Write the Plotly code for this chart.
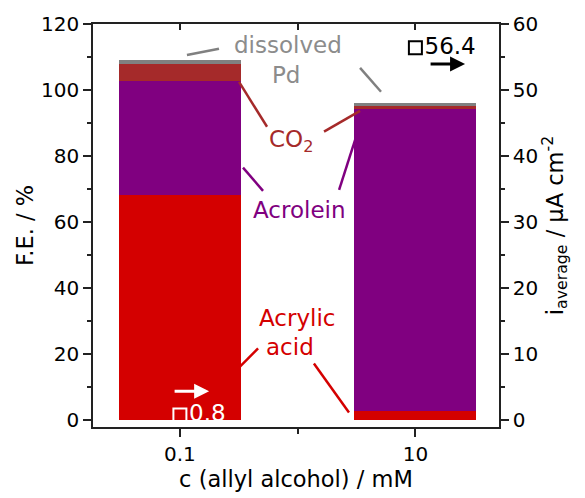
import plotly.graph_objects as go

# ---- data ----
categories = ["0.1", "10"]
acrylic_acid = [68.2, 2.7]
acrolein = [34.4, 91.8]
co2 = [5.4, 0.6]
dissolved_pd = [1.2, 1.0]
i_average = [0.8, 56.4]
i_labels = ["0.8", "56.4"]

xpos = list(range(len(categories)))
FONT = "DejaVu Sans, Liberation Sans, Arial, sans-serif"
FS = 20      # tick labels
FT = 22.5    # axis titles
FA = 23      # annotations
BW = 0.518

fig = go.Figure()
series = [
    ("Acrylic acid", acrylic_acid, "#d40000"),
    ("Acrolein", acrolein, "#800080"),
    ("CO2", co2, "#a52a2a"),
    ("dissolved Pd", dissolved_pd, "#808080"),
]
for name, vals, col in series:
    fig.add_trace(go.Bar(x=xpos, y=vals, name=name, width=BW,
                         marker=dict(color=col, line=dict(width=0)),
                         showlegend=False))

fig.add_trace(go.Scatter(
    x=xpos, y=i_average, yaxis="y2", mode="markers+text",
    marker=dict(symbol="square-open", size=13, color=["white", "black"],
                line=dict(width=2)),
    text=i_labels, textposition="middle right",
    textfont=dict(family=FONT, size=FA, color=["white", "black"]),
    showlegend=False, cliponaxis=False))

# invisible trace for the top axis
fig.add_trace(go.Scatter(x=xpos, y=[None, None], xaxis="x2", mode="markers",
                         showlegend=False, hoverinfo="skip"))

xr = [-0.369, 1.355]
tfont = dict(family=FONT, size=FT, color="black")
kfont = dict(family=FONT, size=FS, color="black")
fig.update_layout(
    width=585, height=498,
    margin=dict(l=93, r=86, t=24, b=71),
    plot_bgcolor="white", paper_bgcolor="white",
    barmode="stack", bargap=0,
    font=dict(family=FONT, size=FS, color="black"),
    xaxis=dict(range=xr, tickvals=xpos, ticktext=categories,
               ticks="outside", ticklen=8, tickwidth=1.5, tickcolor="#222",
               minor=dict(tickvals=[0.5], ticks="outside", ticklen=5,
                          tickwidth=1.5, tickcolor="#222"),
               showline=True, linecolor="#222", linewidth=1.5,
               showgrid=False, zeroline=False,
               title=dict(text="c (allyl alcohol) / mM", standoff=3,
                          font=tfont),
               tickfont=kfont),
    xaxis2=dict(range=xr, overlaying="x", side="top", anchor="y",
                tickvals=[0, 0.5, 1], ticks="inside", ticklen=6,
                tickwidth=1.5, tickcolor="#222", showticklabels=False,
                showline=True, linecolor="#222", linewidth=1.5,
                showgrid=False, zeroline=False),
    yaxis=dict(range=[-2, 120], tick0=0, dtick=20, ticks="outside",
               ticklen=8, tickwidth=1.5, tickcolor="#222",
               minor=dict(dtick=10, tick0=0, ticks="outside", ticklen=4,
                          tickwidth=1.5, tickcolor="#222"),
               showline=True, linecolor="#222", linewidth=1.5,
               showgrid=False, zeroline=False,
               title=dict(text="F.E. / %", standoff=1, font=tfont),
               tickfont=kfont),
    yaxis2=dict(range=[-1, 60], overlaying="y", side="right", anchor="x",
                tick0=0, dtick=10, ticks="outside", ticklen=8,
                tickwidth=1.5, tickcolor="#222",
                minor=dict(dtick=5, tick0=0, ticks="outside", ticklen=4,
                           tickwidth=1.5, tickcolor="#222"),
                showline=True, linecolor="#222", linewidth=1.5,
                showgrid=False, zeroline=False,
                title=dict(text="i<sub>average</sub> / µA cm<sup>-2</sup>",
                           standoff=9, font=tfont),
                tickfont=kfont),
)

# leader lines (data coords)
lines = [
    ((0.030, 110.6), (0.166, 112.5), "#808080"),
    ((0.765, 106.7), (0.854, 99.5), "#808080"),
    ((0.251, 102.5), (0.370, 88.9), "#a52a2a"),
    ((0.612, 87.4), (0.765, 93.7), "#a52a2a"),
    ((0.268, 76.5), (0.353, 69.5), "#800080"),
    ((0.744, 84.9), (0.676, 69.8), "#800080"),
    ((0.255, 16.3), (0.332, 21.8), "#d40000"),
    ((0.569, 17.2), (0.718, 2.4), "#d40000"),
]
for (x0, y0), (x1, y1), col in lines:
    fig.add_shape(type="line", x0=x0, y0=y0, x1=x1, y1=y1, xref="x", yref="y",
                  line=dict(color=col, width=2.5))

labels = [
    ("dissolved", 0.459, 113.7, "#8c8c8c"),
    ("Pd", 0.45, 104.6, "#8c8c8c"),
    ("CO<sub>2</sub>", 0.47, 84.5, "#a52a2a"),
    ("Acrolein", 0.506, 63.8, "#800080"),
    ("Acrylic", 0.497, 31.1, "#d40000"),
    ("acid", 0.467, 22.1, "#d40000"),
]
for t, x, y, col in labels:
    fig.add_annotation(text=t, x=x, y=y, xref="x", yref="y", showarrow=False,
                       font=dict(family=FONT, size=FA, color=col))

# arrows pointing toward the right axis
for hx, hy, col in [(0.124, 8.8, "white"), (1.211, 107.9, "black")]:
    fig.add_annotation(x=hx, y=hy, xref="x", yref="y", ax=-36, ay=0,
                       text="", showarrow=True, arrowhead=2, arrowsize=1,
                       arrowwidth=3, arrowcolor=col)

fig.write_html("out.html")
